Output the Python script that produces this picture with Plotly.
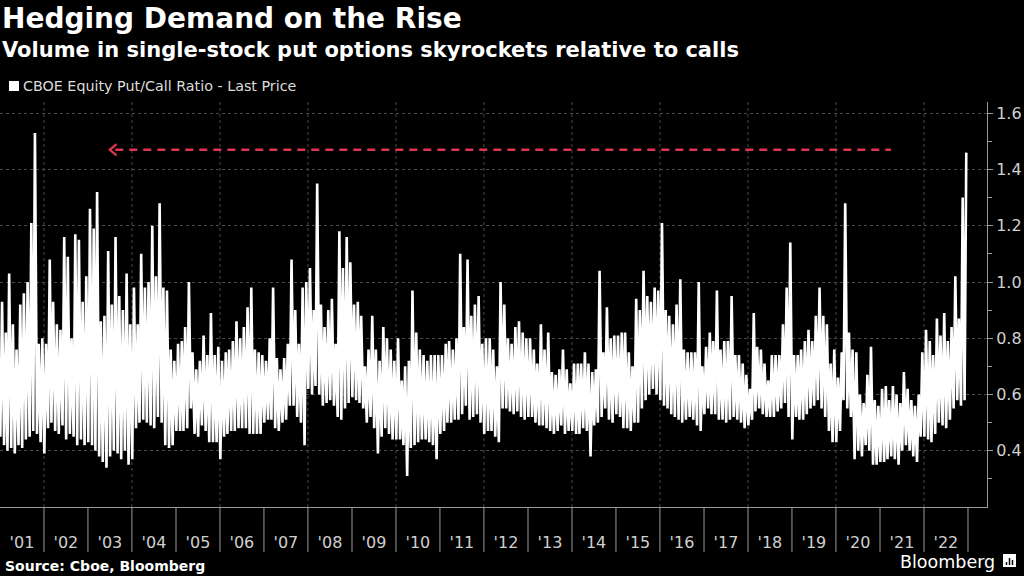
import plotly.graph_objects as go
import pandas as pd

# ---------------- data ----------------
series_name = "CBOE Equity Put/Call Ratio - Last Price"
first_month = "2001-01-01"

# monthly highs of the daily ratio, Jan 2001 .. Dec 2022 (12 per row)
monthly_high = [
    0.93, 0.82, 1.03, 0.85, 0.76, 0.92, 0.96, 1.00, 1.21, 1.53, 0.78, 0.80,  # 2001
    0.78, 1.08, 0.93, 0.85, 0.83, 1.16, 1.09, 0.80, 1.17, 1.15, 0.93, 1.02,  # 2002
    1.26, 1.19, 1.32, 0.86, 0.88, 1.11, 0.92, 1.16, 0.95, 0.90, 1.03, 0.85,  # 2003
    0.98, 0.85, 1.10, 0.98, 1.00, 1.20, 1.02, 1.28, 0.98, 0.97, 0.76, 0.72,  # 2004
    0.78, 0.79, 0.84, 1.00, 0.75, 0.69, 0.72, 0.81, 0.74, 0.89, 0.74, 0.77,  # 2005
    0.72, 0.75, 0.76, 0.79, 0.86, 0.80, 0.84, 0.91, 0.98, 0.76, 0.75, 0.74,  # 2006
    0.72, 0.80, 0.98, 0.73, 0.69, 0.73, 0.78, 1.08, 0.90, 0.78, 0.98, 1.00,  # 2007
    1.05, 0.90, 1.35, 0.92, 0.84, 0.90, 0.94, 0.78, 1.18, 1.05, 1.16, 1.07,  # 2008
    0.92, 0.93, 0.88, 0.70, 0.76, 0.88, 0.76, 0.72, 0.84, 0.80, 0.76, 0.72,  # 2009
    0.80, 0.65, 0.70, 0.72, 0.97, 0.82, 0.76, 0.74, 0.72, 0.74, 0.74, 0.74,  # 2010
    0.74, 0.78, 0.79, 0.76, 0.80, 1.10, 0.84, 1.08, 0.88, 0.92, 0.95, 0.78,  # 2011
    0.80, 0.80, 0.76, 0.70, 1.00, 0.92, 0.80, 0.78, 0.84, 0.86, 0.82, 0.80,  # 2012
    0.80, 0.76, 0.71, 0.85, 0.76, 0.82, 0.68, 0.67, 0.69, 0.76, 0.69, 0.64,  # 2013
    0.71, 0.71, 0.71, 0.75, 0.71, 0.68, 0.69, 1.04, 0.75, 0.91, 0.80, 0.81,  # 2014
    0.81, 0.82, 0.82, 0.75, 0.70, 0.94, 0.90, 1.04, 0.95, 0.93, 0.98, 0.97,  # 2015
    1.21, 0.90, 0.88, 0.85, 0.92, 1.01, 0.76, 0.75, 0.75, 0.75, 1.00, 0.70,  # 2016
    0.77, 0.82, 0.79, 0.97, 0.76, 0.79, 0.79, 0.95, 0.74, 0.74, 0.71, 0.67,  # 2017
    0.62, 0.89, 0.77, 0.76, 0.71, 0.65, 0.74, 0.74, 0.74, 0.85, 0.98, 1.14,  # 2018
    0.74, 0.74, 0.76, 0.79, 0.83, 0.79, 0.88, 0.98, 0.88, 0.85, 0.71, 0.76,  # 2019
    0.66, 0.75, 1.28, 0.82, 0.76, 0.75, 0.60, 0.57, 0.67, 0.77, 0.58, 0.56,  # 2020
    0.62, 0.63, 0.58, 0.63, 0.60, 0.57, 0.68, 0.62, 0.58, 0.56, 0.60, 0.75,  # 2021
    0.83, 0.79, 0.74, 0.87, 0.81, 0.89, 0.79, 0.84, 1.02, 0.87, 1.30, 1.46,  # 2022
]

# monthly lows of the daily ratio, Jan 2001 .. Dec 2022
monthly_low = [
    0.45, 0.42, 0.40, 0.41, 0.39, 0.42, 0.41, 0.44, 0.45, 0.47, 0.46, 0.43,  # 2001
    0.39, 0.48, 0.50, 0.47, 0.46, 0.49, 0.44, 0.46, 0.45, 0.42, 0.44, 0.42,  # 2002
    0.43, 0.42, 0.40, 0.38, 0.36, 0.34, 0.38, 0.40, 0.39, 0.37, 0.40, 0.35,  # 2003
    0.37, 0.48, 0.50, 0.51, 0.50, 0.49, 0.48, 0.52, 0.50, 0.42, 0.41, 0.42,  # 2004
    0.47, 0.47, 0.47, 0.48, 0.55, 0.46, 0.45, 0.49, 0.47, 0.43, 0.43, 0.43,  # 2005
    0.37, 0.45, 0.46, 0.47, 0.47, 0.48, 0.48, 0.48, 0.46, 0.46, 0.46, 0.46,  # 2006
    0.50, 0.51, 0.51, 0.48, 0.47, 0.50, 0.51, 0.56, 0.56, 0.52, 0.50, 0.42,  # 2007
    0.62, 0.60, 0.63, 0.60, 0.56, 0.57, 0.58, 0.56, 0.52, 0.51, 0.55, 0.57,  # 2008
    0.59, 0.58, 0.57, 0.55, 0.50, 0.52, 0.48, 0.39, 0.45, 0.48, 0.46, 0.44,  # 2009
    0.44, 0.44, 0.42, 0.31, 0.41, 0.42, 0.43, 0.44, 0.44, 0.43, 0.42, 0.37,  # 2010
    0.46, 0.47, 0.50, 0.50, 0.51, 0.51, 0.53, 0.56, 0.51, 0.52, 0.53, 0.50,  # 2011
    0.46, 0.47, 0.47, 0.45, 0.43, 0.55, 0.55, 0.54, 0.53, 0.54, 0.52, 0.51,  # 2012
    0.52, 0.52, 0.50, 0.49, 0.49, 0.48, 0.47, 0.46, 0.47, 0.49, 0.46, 0.47,  # 2013
    0.47, 0.46, 0.46, 0.48, 0.47, 0.38, 0.49, 0.50, 0.52, 0.55, 0.51, 0.50,  # 2014
    0.53, 0.52, 0.48, 0.48, 0.47, 0.50, 0.50, 0.55, 0.58, 0.60, 0.62, 0.60,  # 2015
    0.58, 0.56, 0.55, 0.53, 0.52, 0.51, 0.50, 0.51, 0.52, 0.51, 0.49, 0.47,  # 2016
    0.53, 0.55, 0.53, 0.53, 0.51, 0.51, 0.50, 0.51, 0.52, 0.51, 0.50, 0.48,  # 2017
    0.49, 0.51, 0.54, 0.55, 0.53, 0.52, 0.52, 0.52, 0.54, 0.55, 0.57, 0.52,  # 2018
    0.44, 0.52, 0.51, 0.51, 0.53, 0.55, 0.56, 0.58, 0.55, 0.52, 0.47, 0.43,  # 2019
    0.43, 0.47, 0.58, 0.55, 0.52, 0.37, 0.40, 0.38, 0.42, 0.40, 0.35, 0.35,  # 2020
    0.36, 0.36, 0.37, 0.38, 0.37, 0.35, 0.40, 0.42, 0.40, 0.38, 0.36, 0.45,  # 2021
    0.45, 0.44, 0.43, 0.46, 0.50, 0.49, 0.48, 0.51, 0.55, 0.58, 0.56, 0.58,  # 2022
]

year_labels = list(range(2001, 2023))
y_tick_values = [0.4, 0.6, 0.8, 1.0, 1.2, 1.4, 1.6]

# reference line: latest peak carried back to the last comparable level
ref_level = 1.47
ref_start = "2003-07-02"
ref_end = "2021-04-01"

# ---------------- styling ----------------
FONT = "DejaVu Sans"
BG = "#000000"
WHITE = "#ffffff"
AXIS_TXT = "#d0d0d0"
GRID = "#4a4a4a"
RED = "#e0334f"

PLOT_LEFT, PLOT_RIGHT, PLOT_TOP, PLOT_BOTTOM = 0, 987, 102, 507
W, H = 1024, 576
PW = PLOT_RIGHT - PLOT_LEFT
PH = PLOT_BOTTOM - PLOT_TOP


def px_x(px):
    return (px - PLOT_LEFT) / PW


def px_y(py):
    return (PLOT_BOTTOM - py) / PH


# ---------------- build series ----------------
months = pd.date_range(first_month, periods=len(monthly_high), freq="MS")
xs, ys = [], []
for d, lo, hi in zip(months, monthly_low, monthly_high):
    xs += [d + pd.Timedelta(days=3), d + pd.Timedelta(days=17)]
    ys += [lo, hi]

fig = go.Figure()
fig.add_trace(go.Scatter(
    x=xs, y=ys, mode="lines", name=series_name,
    line=dict(color=WHITE, width=2.6), hoverinfo="skip", showlegend=False,
))

# dashed reference line with a left-pointing chevron
ts = pd.Timestamp(ref_start)
fig.add_trace(go.Scatter(
    x=[ts + pd.Timedelta(days=45), pd.Timestamp(ref_end)], y=[ref_level, ref_level],
    mode="lines", line=dict(color=RED, width=2.6, dash="8px,6px"),
    hoverinfo="skip", showlegend=False,
))
fig.add_trace(go.Scatter(
    x=[ts + pd.Timedelta(days=55), ts, ts + pd.Timedelta(days=55)],
    y=[ref_level + 0.02, ref_level, ref_level - 0.02],
    mode="lines", line=dict(color=RED, width=2.4),
    hoverinfo="skip", showlegend=False,
))

# ---------------- shapes: grid, year separators ----------------
shapes = []
for y in range(2002, 2024, 2):
    shapes.append(dict(type="line", xref="x", yref="paper", x0=f"{y}-01-01", x1=f"{y}-01-01",
                       y0=0, y1=1, line=dict(color=GRID, width=1, dash="dot"), layer="below"))
for y in range(2002, 2024):
    shapes.append(dict(type="line", xref="x", yref="paper", x0=f"{y}-01-01", x1=f"{y}-01-01",
                       y0=0, y1=-45 / PH, line=dict(color="#9a9a9a", width=1)))
# legend square
shapes.append(dict(type="rect", xref="paper", yref="paper",
                   x0=px_x(9), x1=px_x(19), y0=px_y(91), y1=px_y(81),
                   fillcolor=WHITE, line=dict(width=0)))
# Bloomberg icon (small speech-bubble square with bars)
shapes.append(dict(type="rect", xref="paper", yref="paper",
                   x0=px_x(1003), x1=px_x(1016), y0=px_y(567), y1=px_y(554),
                   fillcolor=WHITE, line=dict(width=0)))
for bx, top in [(1006.5, 562), (1009.5, 558), (1012.5, 560)]:
    shapes.append(dict(type="line", xref="paper", yref="paper",
                       x0=px_x(bx), x1=px_x(bx), y0=px_y(565), y1=px_y(top),
                       line=dict(color=BG, width=1.5)))

annotations = [
    dict(text="<b>Hedging Demand on the Rise</b>", xref="paper", yref="paper",
         x=px_x(0), y=px_y(19), xanchor="left", yanchor="middle", showarrow=False,
         font=dict(family=FONT, size=28, color=WHITE)),
    dict(text="<b>Volume in single-stock put options skyrockets relative to calls</b>",
         xref="paper", yref="paper", x=px_x(0), y=px_y(50), xanchor="left", yanchor="middle",
         showarrow=False, font=dict(family=FONT, size=21, color=WHITE)),
    dict(text=series_name, xref="paper", yref="paper", x=px_x(21), y=px_y(86),
         xanchor="left", yanchor="middle", showarrow=False,
         font=dict(family=FONT, size=14.3, color="#dddddd")),
    dict(text="<b>Source: Cboe, Bloomberg</b>", xref="paper", yref="paper",
         x=px_x(3), y=px_y(566), xanchor="left", yanchor="middle", showarrow=False,
         font=dict(family=FONT, size=14, color=WHITE)),
    dict(text="Bloomberg", xref="paper", yref="paper", x=px_x(997), y=px_y(562),
         xanchor="right", yanchor="middle", showarrow=False,
         font=dict(family=FONT, size=17.5, color=WHITE)),
]

fig.update_layout(
    width=W, height=H,
    margin=dict(l=PLOT_LEFT, r=W - PLOT_RIGHT, t=PLOT_TOP, b=H - PLOT_BOTTOM, pad=0),
    paper_bgcolor=BG, plot_bgcolor=BG,
    showlegend=False,
    shapes=shapes, annotations=annotations,
    font=dict(family=FONT, color=AXIS_TXT),
)
fig.update_xaxes(
    type="date", range=["2001-01-01", "2023-06-08"],
    tickvals=[f"{y}-07-02" for y in year_labels],
    ticktext=[f"'{y % 100:02d}" for y in year_labels],
    ticks="", showgrid=False, zeroline=False,
    showline=True, linecolor="#9a9a9a", linewidth=1,
    tickfont=dict(family=FONT, size=16, color=AXIS_TXT),
    ticklabelstandoff=21,
)
fig.update_yaxes(
    range=[0.2, 1.64], side="right",
    tickvals=y_tick_values, ticktext=[f"{v:.1f}" for v in y_tick_values],
    ticks="outside", ticklen=5, tickcolor="#9a9a9a",
    minor=dict(tickvals=[0.3, 0.5, 0.7, 0.9, 1.1, 1.3, 1.5], ticks="outside", ticklen=4,
               tickcolor="#9a9a9a", showgrid=False),
    showgrid=True, gridcolor=GRID, griddash="dot", gridwidth=1,
    zeroline=False, showline=True, linecolor="#9a9a9a", linewidth=1,
    tickfont=dict(family=FONT, size=16, color=AXIS_TXT),
)

fig.write_html(
    "out.html",
    config={"displayModeBar": False},
    post_script="document.body.style.margin='0';document.body.style.background='#000';",
)
